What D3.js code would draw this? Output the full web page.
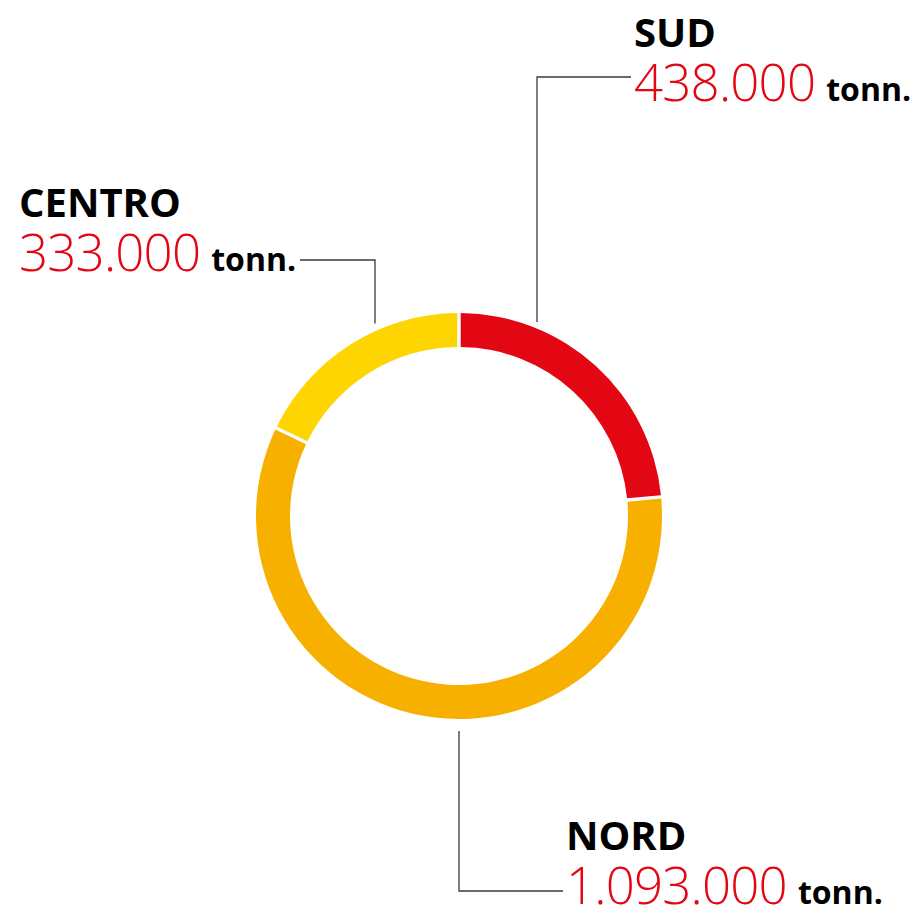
<!DOCTYPE html>
<html>
<head>
<meta charset="utf-8">
<script src="https://cdn.jsdelivr.net/npm/d3@7"></script>
<style>
  html, body { margin: 0; padding: 0; background: #fff; }
  svg { display: block; font-family: "Open Sans", "Noto Sans", sans-serif; }
</style>
</head>
<body>
<div id="chart"></div>
<script>
'use strict';

// data
const regions = ["SUD", "NORD", "CENTRO"];
const tonnes = [438000, 1093000, 333000];
const colors = ["#e30613", "#f8b000", "#fed500"];
const unit = "tonn.";

const w = 919;
const h = 908;
const cx = 459;
const cy = 516;
const outerR = 203;
const innerR = 169;

// label placement: anchor angle (deg, clockwise from top), elbow, text position
const labelLayout = {
  SUD:    { angle: 21.9,  r: 209, elbow: [537, 77],  end: [631, 77],  x: 634, y: 47 },
  CENTRO: { angle: -23.5, r: 210, elbow: [375, 260], end: [300, 260], x: 19,  y: 217 },
  NORD:   { angle: 180,   r: 215, elbow: [459, 891], end: [563, 891], x: 566, y: 850 }
};

const it = d3.formatLocale({ decimal: ",", thousands: ".", grouping: [3], currency: ["€", ""] });
const fmt = it.format(",d");

const svg = d3.select("#chart").append("svg")
  .attr("width", w)
  .attr("height", h);

const data = regions.map((r, i) => ({ name: r, value: tonnes[i], color: colors[i] }));

const pie = d3.pie()
  .sort(null)
  .value(d => d.value);

const arc = d3.arc()
  .innerRadius(innerR)
  .outerRadius(outerR)
  .padAngle(0.013);

const g = svg.append("g")
  .attr("transform", `translate(${cx},${cy})`);

g.selectAll("path")
  .data(pie(data))
  .enter()
  .append("path")
  .attr("d", arc)
  .attr("fill", d => d.data.color);

// leader lines
const line = d3.line();
data.forEach(d => {
  const L = labelLayout[d.name];
  const p = d3.pointRadial(L.angle * Math.PI / 180, L.r);
  const start = [cx + p[0], cy + p[1]];
  // keep the first segment straight
  if (Math.abs(L.elbow[0] - start[0]) < 2) start[0] = L.elbow[0];
  svg.append("path")
    .attr("d", line([start, L.elbow, L.end]))
    .attr("fill", "none")
    .attr("stroke", "#3a3a3a")
    .attr("stroke-width", 1.3);
});

// labels
const labels = svg.selectAll("g.label")
  .data(data)
  .enter()
  .append("g")
  .attr("class", "label")
  .attr("transform", d => `translate(${labelLayout[d.name].x},${labelLayout[d.name].y})`);

labels.append("text")
  .attr("font-size", 40)
  .attr("font-weight", 700)
  .attr("fill", "#000")
  .text(d => d.name);

const val = labels.append("text")
  .attr("y", 54);

val.append("tspan")
  .attr("font-size", 51)
  .attr("font-weight", 360)
  .attr("fill", "#e30613")
  .attr("letter-spacing", -0.8)
  .text(d => fmt(d.value));

val.append("tspan")
  .attr("dx", 11)
  .attr("font-size", 32)
  .attr("font-weight", 700)
  .attr("fill", "#000")
  .text(unit);
</script>
</body>
</html>
